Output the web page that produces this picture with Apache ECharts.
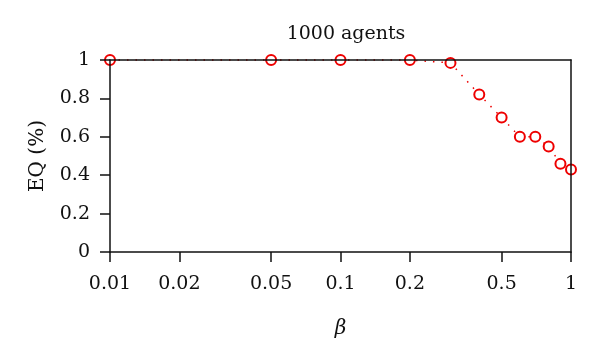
<!DOCTYPE html>
<html>
<head>
<meta charset="utf-8">
<script src="https://cdn.jsdelivr.net/npm/echarts@6/dist/echarts.min.js"></script>
<style>html,body{margin:0;padding:0;background:#fff}#c{width:600px;height:364px}</style>
</head>
<body>
<div id="c"></div>
<script>
var betaValues = [0.01, 0.05, 0.1, 0.2, 0.3, 0.4, 0.5, 0.6, 0.7, 0.8, 0.9, 1.0];
var eqValues = [1.0, 1.0, 1.0, 1.0, 0.985, 0.82, 0.70, 0.60, 0.60, 0.55, 0.46, 0.43];
var xTicks = [0.01, 0.02, 0.05, 0.1, 0.2, 0.5, 1];
var yTicks = [0, 0.2, 0.4, 0.6, 0.8, 1];

var FONT = 'DejaVu Serif';
var chart = echarts.init(document.getElementById('c'), null, {renderer: 'canvas'});
var data = betaValues.map(function (b, i) { return [b, eqValues[i]]; });
chart.setOption({
  animation: false,
  backgroundColor: '#fff',
  title: {
    text: '1000 agents', left: 341, top: 20, textAlign: 'center',
    textStyle: {fontFamily: FONT, fontSize: 19, fontWeight: 'normal', color: '#111'}
  },
  grid: {left: 110, right: 29, top: 60, bottom: 112, containLabel: false},
  xAxis: [{
    type: 'log', logBase: 10, min: 0.01, max: 1,
    name: 'β', nameLocation: 'middle', nameGap: 67,
    nameTextStyle: {fontFamily: FONT, fontSize: 20, fontStyle: 'italic', color: '#111'},
    axisLine: {show: true, onZero: false, lineStyle: {color: '#111', width: 1.5}},
    axisTick: {show: true, inside: false, length: 10, lineStyle: {color: '#111', width: 1.5}, customValues: xTicks},
    axisLabel: {fontFamily: FONT, fontSize: 19, color: '#111', margin: 23, customValues: xTicks,
      formatter: function (v) { return String(+(+v).toPrecision(3)); }},
    minorTick: {show: false},
    splitLine: {show: false},
    z: 10
  }, {
    type: 'value', min: 0, max: 1, position: 'top',
    axisLine: {show: true, onZero: false, lineStyle: {color: '#111', width: 1.5}},
    axisTick: {show: false}, axisLabel: {show: false}, splitLine: {show: false},
    z: 10
  }],
  yAxis: [{
    type: 'value', min: 0, max: 1, interval: 0.2,
    name: 'EQ (%)', nameLocation: 'middle', nameGap: 62,
    nameTextStyle: {fontFamily: FONT, fontSize: 20, color: '#111'},
    axisLine: {show: true, onZero: false, lineStyle: {color: '#111', width: 1.5}},
    axisTick: {show: true, inside: false, length: 10, lineStyle: {color: '#111', width: 1.5}},
    axisLabel: {fontFamily: FONT, fontSize: 19, color: '#111', margin: 20,
      formatter: function (v) { return String(+v.toFixed(1)); }},
    splitLine: {show: false},
    z: 10
  }, {
    type: 'value', min: 0, max: 1, position: 'right',
    axisLine: {show: true, onZero: false, lineStyle: {color: '#111', width: 1.5}},
    axisTick: {show: false}, axisLabel: {show: false}, splitLine: {show: false},
    z: 10
  }],
  series: [{
    type: 'line',
    data: data,
    symbol: 'emptyCircle', symbolSize: 10,
    showAllSymbol: true,
    clip: false,
    lineStyle: {color: '#ee0000', width: 1.5, type: [1.5, 7]},
    itemStyle: {color: '#ee0000', borderColor: '#ee0000', borderWidth: 2},
    z: 2
  }]
});
</script>
</body>
</html>
